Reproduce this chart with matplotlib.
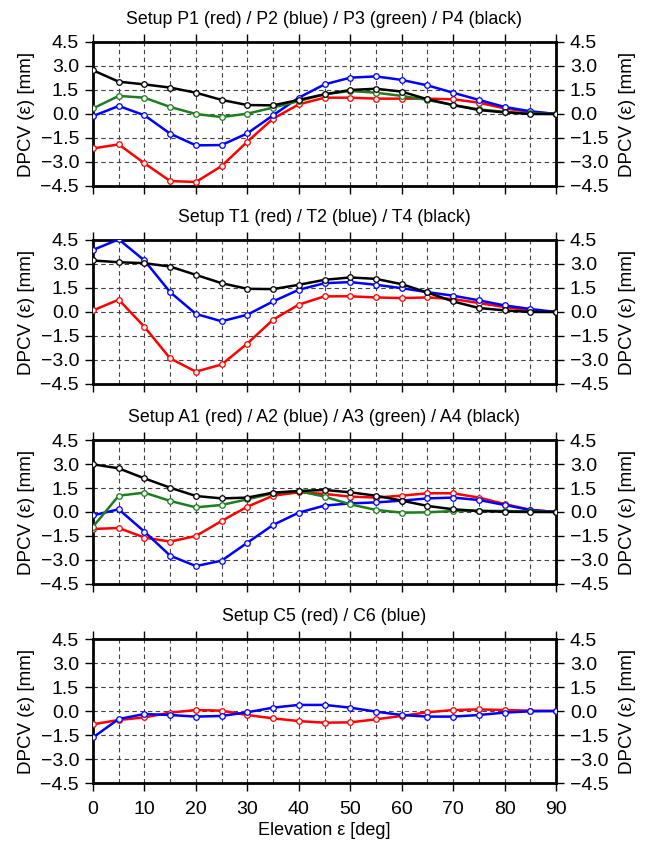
import matplotlib
matplotlib.use('Agg')
import matplotlib.pyplot as plt

plt.rcParams['font.family'] = ['Liberation Sans', 'DejaVu Sans']

elev = [0, 5, 10, 15, 20, 25, 30, 35, 40, 45, 50, 55, 60, 65, 70, 75, 80, 85, 90]

# Setup P
p1 = [-2.15, -1.9, -3.08, -4.19, -4.25, -3.25, -1.73, -0.29, 0.6, 1.02, 1.02, 0.96, 0.96, 0.96, 0.92, 0.71, 0.35, 0.13, 0.0]
p2 = [-0.13, 0.5, -0.08, -1.23, -1.96, -1.94, -1.21, -0.08, 1.02, 1.85, 2.27, 2.35, 2.13, 1.79, 1.33, 0.88, 0.44, 0.17, 0.0]
p3 = [0.35, 1.13, 1.02, 0.44, 0.0, -0.19, 0.02, 0.4, 0.81, 1.23, 1.44, 1.33, 1.13, 0.88, 0.56, 0.29, 0.13, 0.04, 0.0]
p4 = [2.73, 2.02, 1.85, 1.65, 1.33, 0.88, 0.56, 0.54, 0.88, 1.23, 1.5, 1.58, 1.4, 0.92, 0.56, 0.25, 0.1, 0.0, 0.0]

# Setup T
t1 = [0.1, 0.77, -0.93, -2.9, -3.73, -3.28, -1.97, -0.48, 0.46, 0.98, 0.98, 0.91, 0.87, 0.91, 0.81, 0.56, 0.31, 0.1, 0.0]
t2 = [3.88, 4.54, 3.22, 1.24, -0.12, -0.58, -0.17, 0.66, 1.39, 1.8, 1.87, 1.7, 1.49, 1.24, 1.02, 0.73, 0.41, 0.19, 0.0]
t4 = [3.22, 3.11, 3.05, 2.84, 2.32, 1.8, 1.45, 1.43, 1.7, 2.01, 2.16, 2.07, 1.74, 1.22, 0.66, 0.25, 0.1, 0.0, 0.0]

# Setup A
a1 = [-1.06, -1.0, -1.6, -1.85, -1.5, -0.56, 0.33, 1.02, 1.23, 1.13, 0.96, 0.9, 1.02, 1.17, 1.17, 0.9, 0.5, 0.13, 0.0]
a2 = [-0.21, 0.17, -1.23, -2.73, -3.38, -3.04, -1.92, -0.81, -0.04, 0.4, 0.54, 0.6, 0.71, 0.85, 0.9, 0.75, 0.44, 0.13, 0.0]
a3 = [-0.92, 1.02, 1.21, 0.69, 0.29, 0.44, 0.79, 1.17, 1.31, 0.96, 0.48, 0.13, -0.04, -0.02, 0.06, 0.08, 0.06, 0.04, 0.0]
a4 = [2.98, 2.73, 2.1, 1.52, 1.0, 0.85, 0.9, 1.21, 1.31, 1.38, 1.23, 1.02, 0.71, 0.38, 0.17, 0.06, 0.02, 0.0, 0.0]

# Setup C
c5 = [-0.83, -0.56, -0.4, -0.1, 0.06, 0.02, -0.25, -0.46, -0.63, -0.73, -0.71, -0.52, -0.31, -0.08, 0.06, 0.1, 0.06, 0.02, 0.0]
c6 = [-1.65, -0.5, -0.19, -0.25, -0.35, -0.31, -0.08, 0.21, 0.38, 0.38, 0.21, -0.04, -0.25, -0.35, -0.35, -0.25, -0.1, -0.02, 0.0]

titles = ['Setup P1 (red) / P2 (blue) / P3 (green) / P4 (black)',
          'Setup T1 (red) / T2 (blue) / T4 (black)',
          'Setup A1 (red) / A2 (blue) / A3 (green) / A4 (black)',
          'Setup C5 (red) / C6 (blue)']
panels = [[(p1, 'red'), (p2, 'blue'), (p3, '#1e7d1e'), (p4, 'black')],
          [(t1, 'red'), (t2, 'blue'), (t4, 'black')],
          [(a1, 'red'), (a2, 'blue'), (a3, '#1e7d1e'), (a4, 'black')],
          [(c5, 'red'), (c6, 'blue')]]

yticks = [-4.5, -3.0, -1.5, 0.0, 1.5, 3.0, 4.5]
W, H = 652, 846
tops = [42, 240, 440, 639]

fig = plt.figure(figsize=(W / 100, H / 100), dpi=100)
for i in range(4):
    ax = fig.add_axes([93 / W, 1 - (tops[i] + 144) / H, 463 / W, 144 / H])
    ax.set_xlim(0, 90)
    ax.set_ylim(-4.5, 4.5)
    for x in range(5, 90, 5):
        ax.axvline(x, color='#444444', lw=0.8, ls=(0, (4, 3)), zorder=1)
    for y in yticks[1:-1]:
        ax.axhline(y, color='#444444', lw=0.8, ls=(0, (4, 3)), zorder=1)
    for vals, col in panels[i]:
        ax.plot(elev, vals, color=col, lw=1.8, marker='o', ms=4, mfc='#f4f4f4',
                mec=col, mew=0.9, zorder=3, clip_on=True)
    ax.set_xticks(range(0, 91, 10))
    ax.set_yticks(yticks)
    ax.set_yticklabels(['\u22124.5', '\u22123.0', '\u22121.5', '0.0', '1.5', '3.0', '4.5'])
    ax.tick_params(direction='out', length=6, width=1, top=True, right=True,
                   labelright=True, labelsize=14, pad=4)
    ax.tick_params(axis='x', pad=7)
    if i < 3:
        ax.tick_params(labelbottom=False)
    for s in ax.spines.values():
        s.set_linewidth(2)
    ax.set_ylabel('DPCV (\u03b5) [mm]', fontsize=13.5, labelpad=4)
    ax.text(1.155, 0.5, 'DPCV (\u03b5) [mm]', transform=ax.transAxes, rotation=90,
            ha='center', va='center', fontsize=13.5)
    ax.set_title(titles[i], fontsize=12.8, pad=13)

ax.set_xlabel('Elevation \u03b5 [deg]', fontsize=13, labelpad=3)

fig.savefig('out.png', dpi=100)
